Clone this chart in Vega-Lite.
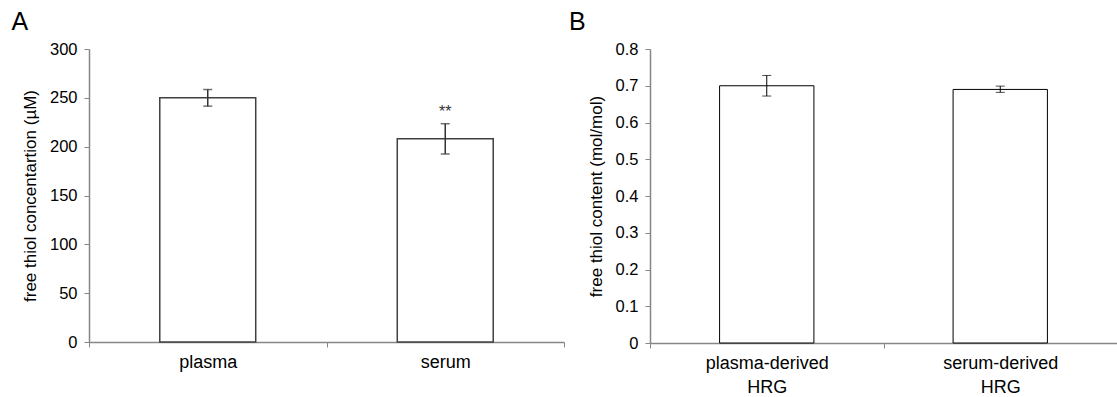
{
  "$schema": "https://vega.github.io/schema/vega-lite/v6.json",
  "padding": {"left": 11, "top": 10, "right": 0, "bottom": 0},
  "background": "white",
  "spacing": 4,
  "config": {
    "view": {"stroke": null},
    "font": "Liberation Sans",
    "axis": {
      "domainColor": "#868686",
      "tickColor": "#868686",
      "tickSize": 5,
      "grid": false,
      "labelColor": "#000000",
      "titleColor": "#000000",
      "titleFontWeight": "normal",
      "domainWidth": 1.5
    },
    "axisX": {
      "labelFontSize": 18,
      "labelPadding": 6,
      "labelAngle": 0,
      "labelFont": "Liberation Sans"
    },
    "axisY": {
      "titleFontSize": 17,
      "labelFontSize": 16.5,
      "labelPadding": 7,
      "titlePadding": 10,
      "titleFont": "Liberation Sans",
      "labelFont": "Liberation Sans"
    }
  },
  "hconcat": [
    {
      "width": 475,
      "height": 293,
      "title": {"text": "A", "anchor": "start", "frame": "bounds", "fontSize": 25, "font": "Liberation Sans", "fontWeight": "normal", "dx": -10, "offset": 6},
      "data": {
        "values": [
          {"sample": "plasma", "value": 250, "lo": 241.5, "hi": 258.5, "sig": "", "sigpos": 0},
          {"sample": "serum", "value": 208, "lo": 192.5, "hi": 223.5, "sig": "**", "sigpos": 236}
        ]
      },
      "encoding": {
        "x": {
          "field": "sample", "type": "nominal", "sort": null,
          "scale": {"paddingInner": 0, "paddingOuter": 0},
          "axis": {"title": null, "tickBand": "extent"}
        }
      },
      "layer": [
        {
          "mark": {"type": "bar", "fill": "white", "stroke": "#404040", "strokeWidth": 1.5, "width": {"band": 0.404}},
          "encoding": {
            "y": {
              "field": "value", "type": "quantitative",
              "scale": {"domain": [0, 300], "nice": false},
              "axis": {"values": [0, 50, 100, 150, 200, 250, 300], "title": "free thiol concentartion  (µM)"}
            }
          }
        },
        {
          "mark": {"type": "errorbar", "color": "#333333", "thickness": 1.5, "ticks": {"size": 9, "color": "#333333", "thickness": 1.5}},
          "encoding": {
            "y": {"field": "lo", "type": "quantitative", "axis": {"values": [0, 50, 100, 150, 200, 250, 300], "title": "free thiol concentartion  (µM)"}},
            "y2": {"field": "hi"}
          }
        },
        {
          "mark": {"type": "text", "fontSize": 16, "baseline": "middle", "color": "#333333"},
          "encoding": {
            "y": {"field": "sigpos", "type": "quantitative", "axis": {"values": [0, 50, 100, 150, 200, 250, 300], "title": "free thiol concentartion  (µM)"}},
            "text": {"field": "sig"}
          }
        }
      ]
    },
    {
      "width": 467,
      "height": 294,
      "title": {"text": "B", "anchor": "start", "frame": "bounds", "fontSize": 25, "font": "Liberation Sans", "fontWeight": "normal", "dx": -18, "offset": 6},
      "data": {
        "values": [
          {"sample": "plasma-derived HRG", "value": 0.70, "lo": 0.672, "hi": 0.728},
          {"sample": "serum-derived HRG", "value": 0.69, "lo": 0.682, "hi": 0.699}
        ]
      },
      "encoding": {
        "x": {
          "field": "sample", "type": "nominal", "sort": null,
          "scale": {"paddingInner": 0, "paddingOuter": 0},
          "axis": {"title": null, "labelLineHeight": 24, "tickBand": "extent", "labelExpr": "split(datum.label, ' ')"}
        }
      },
      "layer": [
        {
          "mark": {"type": "bar", "fill": "white", "stroke": "#000000", "strokeWidth": 1, "width": {"band": 0.404}},
          "encoding": {
            "y": {
              "field": "value", "type": "quantitative",
              "scale": {"domain": [0, 0.8], "nice": false},
              "axis": {"values": [0, 0.1, 0.2, 0.3, 0.4, 0.5, 0.6, 0.7, 0.8], "format": ".1~f", "title": "free thiol content (mol/mol)"}
            }
          }
        },
        {
          "mark": {"type": "errorbar", "color": "#000000", "thickness": 1, "ticks": {"size": 9, "color": "#000000", "thickness": 1}},
          "encoding": {
            "y": {"field": "lo", "type": "quantitative", "axis": {"values": [0, 0.1, 0.2, 0.3, 0.4, 0.5, 0.6, 0.7, 0.8], "format": ".1~f", "title": "free thiol content (mol/mol)"}},
            "y2": {"field": "hi"}
          }
        }
      ]
    }
  ]
}
